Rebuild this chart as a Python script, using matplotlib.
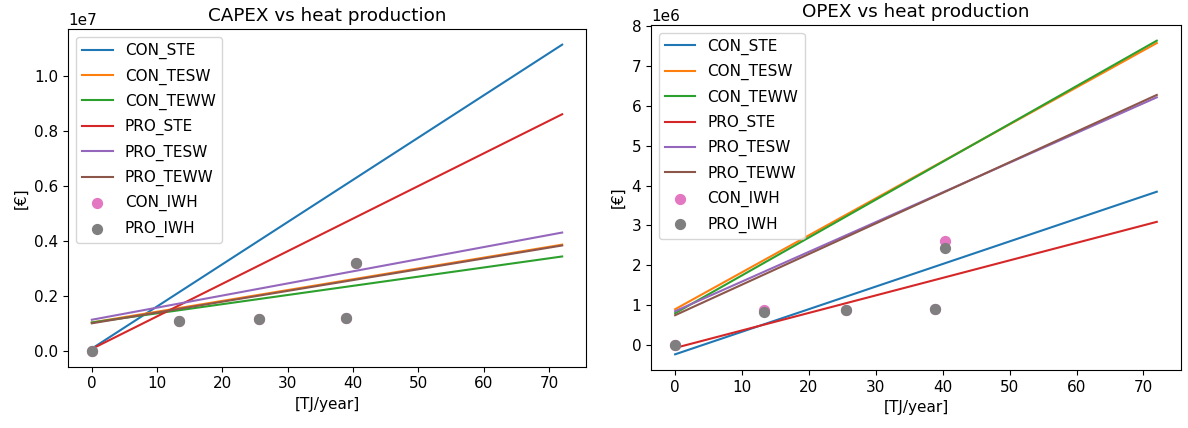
import matplotlib
matplotlib.use("Agg")
import matplotlib.pyplot as plt
import numpy as np

# Heat production range used for the fitted cost lines [TJ/year]
x_fit = [0, 72]

# Fitted CAPEX lines, values at the two ends of x_fit [€]
capex_con_ste = [1.0e5, 1.115e7]
capex_con_tesw = [1.05e6, 3.88e6]
capex_con_teww = [1.05e6, 3.45e6]
capex_pro_ste = [0.9e5, 8.62e6]
capex_pro_tesw = [1.15e6, 4.32e6]
capex_pro_teww = [1.02e6, 3.85e6]

# Fitted OPEX lines, values at the two ends of x_fit [€]
opex_con_ste = [-0.23e6, 3.845e6]
opex_con_tesw = [0.90e6, 7.57e6]
opex_con_teww = [0.80e6, 7.63e6]
opex_pro_ste = [-0.07e6, 3.09e6]
opex_pro_tesw = [0.85e6, 6.21e6]
opex_pro_teww = [0.75e6, 6.27e6]

# Individual water heater cases
x_iwh = [0, 13.3, 25.6, 38.9, 40.4]
capex_con_iwh = [0, 1.12e6, 1.16e6, 1.22e6, 3.21e6]
capex_pro_iwh = [0, 1.12e6, 1.16e6, 1.22e6, 3.20e6]
opex_con_iwh = [0, 0.87e6, 0.89e6, 0.91e6, 2.62e6]
opex_pro_iwh = [0, 0.84e6, 0.89e6, 0.91e6, 2.44e6]

line_names = ["CON_STE", "CON_TESW", "CON_TEWW", "PRO_STE", "PRO_TESW", "PRO_TEWW"]
line_colors = ["tab:blue", "tab:orange", "tab:green", "tab:red", "tab:purple", "tab:brown"]

plt.rcParams["font.size"] = 11

fig = plt.figure(figsize=(11.88, 4.28), dpi=100)
ax1 = fig.add_axes([0.0575, 0.1432, 0.4355, 0.7883])
ax2 = fig.add_axes([0.548, 0.1355, 0.446, 0.8061])


def draw(ax, lines, con_iwh, pro_iwh, title):
    for name, vals, col in zip(line_names, lines, line_colors):
        ax.plot(x_fit, vals, color=col, label=name, linewidth=1.5)
    ax.scatter(x_iwh, con_iwh, color="tab:pink", s=50, label="CON_IWH", zorder=3)
    ax.scatter(x_iwh, pro_iwh, color="tab:gray", s=50, label="PRO_IWH", zorder=3)
    ax.set_title(title)
    ax.set_xlabel("[TJ/year]")
    ax.set_ylabel("[€]")
    ax.legend(loc="upper left", labelspacing=0.6)


draw(ax1, [capex_con_ste, capex_con_tesw, capex_con_teww,
           capex_pro_ste, capex_pro_tesw, capex_pro_teww],
     capex_con_iwh, capex_pro_iwh, "CAPEX vs heat production")
draw(ax2, [opex_con_ste, opex_con_tesw, opex_con_teww,
           opex_pro_ste, opex_pro_tesw, opex_pro_teww],
     opex_con_iwh, opex_pro_iwh, "OPEX vs heat production")

fig.savefig("out.png", dpi=100)
